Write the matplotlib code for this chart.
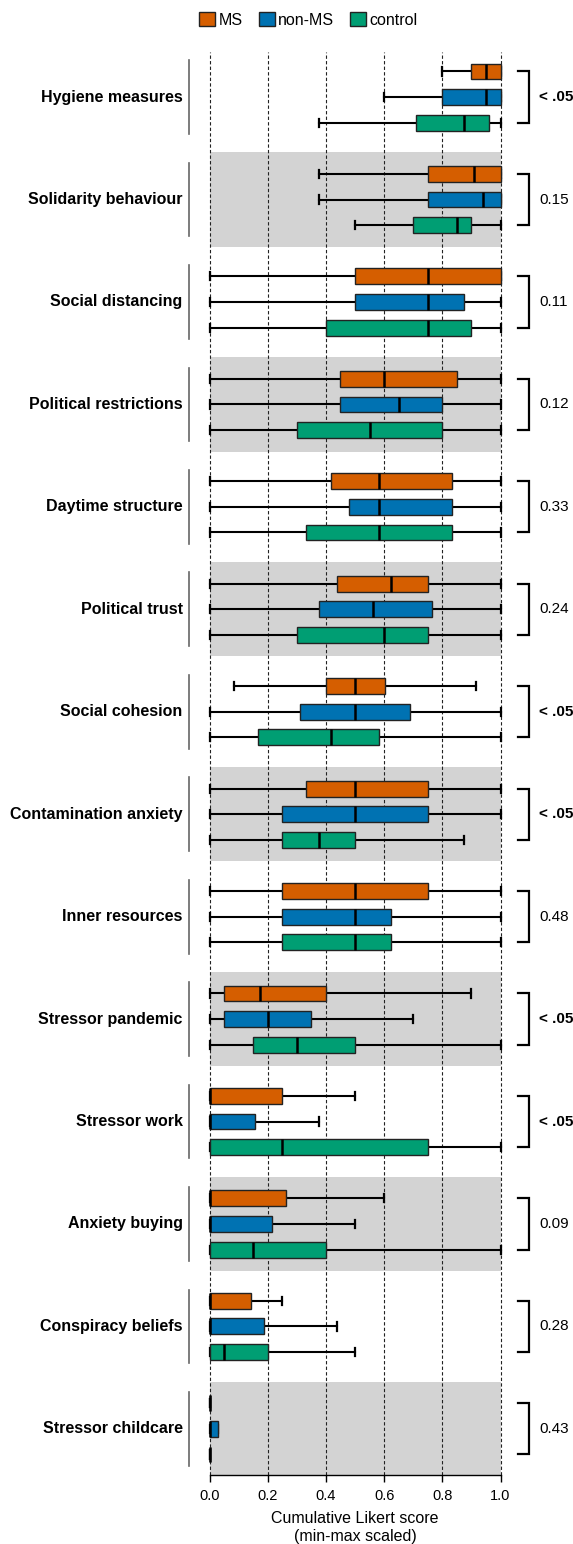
import matplotlib
matplotlib.use("Agg")
import matplotlib.pyplot as plt
from matplotlib.patches import Patch

plt.rcParams['font.family'] = ['Liberation Sans', 'DejaVu Sans']

# item names, top to bottom
items = ["Hygiene measures", "Solidarity behaviour", "Social distancing",
         "Political restrictions", "Daytime structure", "Political trust",
         "Social cohesion", "Contamination anxiety", "Inner resources",
         "Stressor pandemic", "Stressor work", "Anxiety buying",
         "Conspiracy beliefs", "Stressor childcare"]

# (min, q1, median, q3, max) per item
ms_stats = [(0.8, 0.9, 0.95, 1.0, 1.0), (0.375, 0.75, 0.91, 1.0, 1.0),
            (0.0, 0.5, 0.75, 1.0, 1.0), (0.0, 0.45, 0.6, 0.85, 1.0),
            (0.0, 0.417, 0.583, 0.833, 1.0), (0.0, 0.4375, 0.625, 0.75, 1.0),
            (0.083, 0.4, 0.5, 0.604, 0.917), (0.0, 0.333, 0.5, 0.75, 1.0),
            (0.0, 0.25, 0.5, 0.75, 1.0), (0.0, 0.05, 0.175, 0.4, 0.9),
            (0.0, 0.0, 0.0, 0.25, 0.5), (0.0, 0.0, 0.0, 0.262, 0.6),
            (0.0, 0.0, 0.0, 0.141, 0.25), (0.0, 0.0, 0.0, 0.0, 0.0)]
nonms_stats = [(0.6, 0.8, 0.95, 1.0, 1.0), (0.375, 0.75, 0.94, 1.0, 1.0),
               (0.0, 0.5, 0.75, 0.875, 1.0), (0.0, 0.45, 0.65, 0.8, 1.0),
               (0.0, 0.48, 0.583, 0.833, 1.0), (0.0, 0.375, 0.5625, 0.766, 1.0),
               (0.0, 0.3125, 0.5, 0.6875, 1.0), (0.0, 0.25, 0.5, 0.75, 1.0),
               (0.0, 0.25, 0.5, 0.625, 1.0), (0.0, 0.05, 0.2, 0.35, 0.7),
               (0.0, 0.0, 0.0, 0.156, 0.375), (0.0, 0.0, 0.0, 0.213, 0.5),
               (0.0, 0.0, 0.0, 0.188, 0.4375), (0.0, 0.0, 0.0, 0.03, 0.03)]
control_stats = [(0.375, 0.71, 0.875, 0.96, 1.0), (0.5, 0.7, 0.85, 0.9, 1.0),
                 (0.0, 0.4, 0.75, 0.9, 1.0), (0.0, 0.3, 0.55, 0.8, 1.0),
                 (0.0, 0.333, 0.583, 0.833, 1.0), (0.0, 0.3, 0.6, 0.75, 1.0),
                 (0.0, 0.167, 0.417, 0.583, 1.0), (0.0, 0.25, 0.375, 0.5, 0.875),
                 (0.0, 0.25, 0.5, 0.625, 1.0), (0.0, 0.15, 0.3, 0.5, 1.0),
                 (0.0, 0.0, 0.25, 0.75, 1.0), (0.0, 0.0, 0.15, 0.4, 1.0),
                 (0.0, 0.0, 0.05, 0.2, 0.5), (0.0, 0.0, 0.0, 0.0, 0.0)]

p_values = ["< .05", "0.15", "0.11", "0.12", "0.33", "0.24", "< .05",
            "< .05", "0.48", "< .05", "< .05", "0.09", "0.28", "0.43"]

groups = ["MS", "non-MS", "control"]
colors = ["#D55E00", "#0072B2", "#009E73"]
offsets = [-0.25, 0.0, 0.25]

fig = plt.figure(figsize=(5.73, 15.44), dpi=100)
ax = fig.add_axes([0.3504, 0.0447, 0.5384, 0.9216])
ax.set_xlim(-0.03, 1.03)
ax.set_ylim(13.45, -0.44)

# grey bands behind every second item
for i in range(1, len(items), 2):
    ax.fill_betweenx([i - 0.46, i + 0.46], 0, 1, color="#d3d3d3", lw=0, zorder=0)

for x in [0, 0.2, 0.4, 0.6, 0.8, 1.0]:
    ax.axvline(x, color="#222222", lw=0.8, dashes=(3, 2), zorder=0.5)

def to_bxp(row):
    lo, q1, med, q3, hi = row
    return dict(whislo=lo, q1=q1, med=med, q3=q3, whishi=hi, fliers=[])

for stats, col, off in zip([ms_stats, nonms_stats, control_stats], colors, offsets):
    pos = [i + off for i in range(len(items))]
    ax.bxp([to_bxp(r) for r in stats], positions=pos, widths=0.155,
           capwidths=0.08, orientation="horizontal", patch_artist=True,
           showfliers=False, manage_ticks=False,
           boxprops=dict(facecolor=col, edgecolor="#222222", lw=1.0, zorder=3),
           medianprops=dict(color="black", lw=1.8, zorder=4),
           whiskerprops=dict(color="black", lw=1.5, zorder=2),
           capprops=dict(color="black", lw=1.6, zorder=2))

# item labels, group lines, brackets and p-values
for i, (name, p) in enumerate(zip(items, p_values)):
    ax.text(-0.092, i, name, ha="right", va="center", fontsize=11.5,
            fontweight="bold", clip_on=False)
    ax.plot([-0.072, -0.072], [i - 0.36, i + 0.36], color="#666666", lw=1.2,
            clip_on=False)
    ax.plot([1.06, 1.098, 1.098, 1.06], [i - 0.25, i - 0.25, i + 0.25, i + 0.25],
            color="black", lw=1.6, clip_on=False, solid_joinstyle="miter")
    ax.text(1.132, i, p, ha="left", va="center", fontsize=11,
            fontweight="bold" if p.startswith("<") else "normal", clip_on=False)

for s in ["top", "left", "right"]:
    ax.spines[s].set_visible(False)
ax.spines["bottom"].set_bounds(0, 1)
ax.spines["bottom"].set_linewidth(1.0)
ax.set_yticks([])
ax.set_xticks([0, 0.2, 0.4, 0.6, 0.8, 1.0])
ax.set_xticklabels(["0.0", "0.2", "0.4", "0.6", "0.8", "1.0"])
ax.tick_params(axis="x", direction="out", length=5, width=1.0, pad=5,
               labelsize=10.5)
ax.set_xlabel("Cumulative Likert score\n(min-max scaled)", fontsize=11.5,
              labelpad=6, linespacing=1.2)

handles = [Patch(facecolor=c, edgecolor="#222222", lw=1.0) for c in colors]
fig.legend(handles, groups, loc="center", bbox_to_anchor=(0.538, 1 - 20 / 1544),
           ncol=3, frameon=False, fontsize=11.5, handlelength=1.0,
           handleheight=0.9, handletextpad=0.2, columnspacing=1.0)

fig.savefig("out.png", dpi=100)
